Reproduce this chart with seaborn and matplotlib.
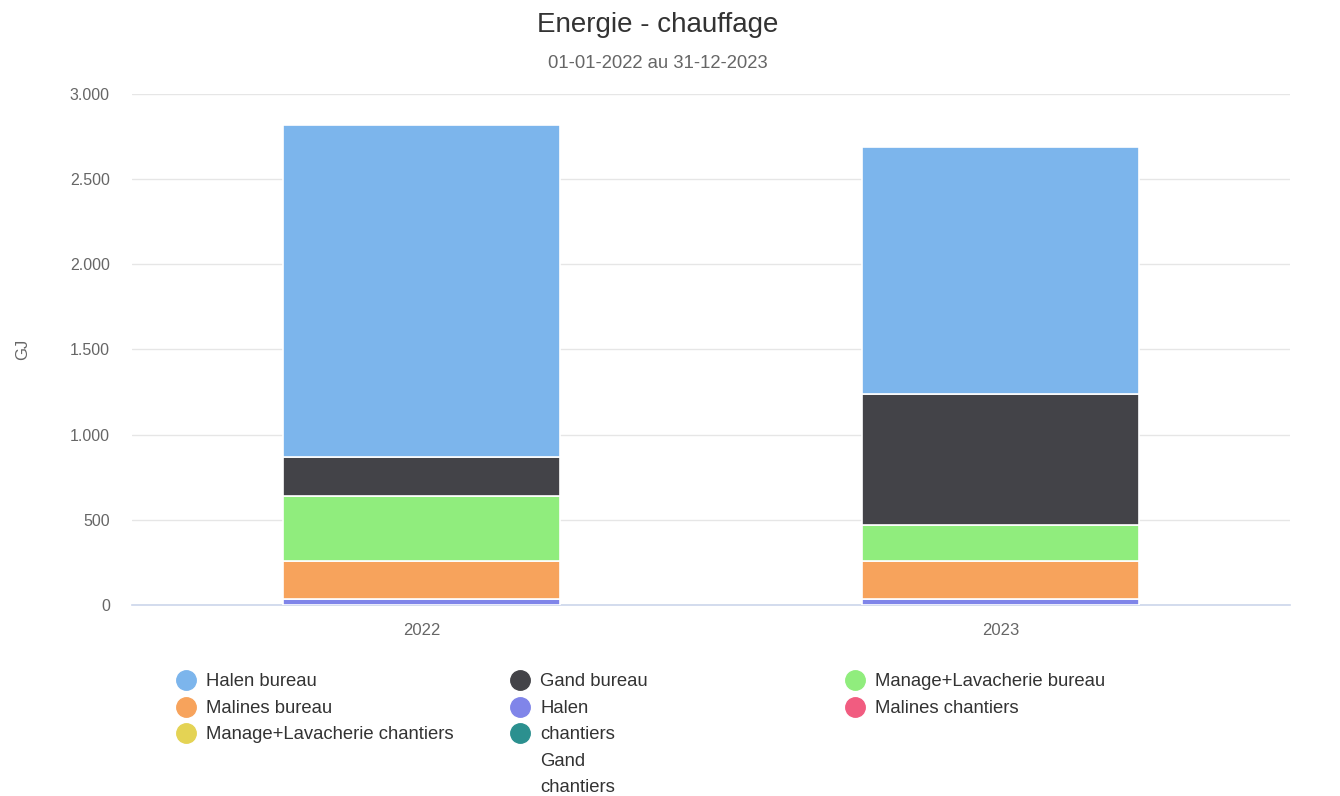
import matplotlib
matplotlib.use('Agg')
import matplotlib.pyplot as plt
from matplotlib.lines import Line2D
from matplotlib.ticker import FuncFormatter
import seaborn as sns
import pandas as pd
import numpy as np

# Data (GJ), bottom to top of stack
years = ['2022', '2023']
halen = [35, 33]
malines_bureau = [223, 223]
manage_bureau = [382, 214]
gand_bureau = [229, 769]
halen_bureau = [1949, 1450]
malines_chantiers = [0, 0]
manage_chantiers = [0, 0]
chantiers = [0, 0]

stack = [
    ('Halen', halen, '#8085e9'),
    ('Malines bureau', malines_bureau, '#f7a35c'),
    ('Manage+Lavacherie bureau', manage_bureau, '#90ed7d'),
    ('Gand bureau', gand_bureau, '#434348'),
    ('Halen bureau', halen_bureau, '#7cb5ec'),
]

# legend order as shown (row by row, 3 columns)
legend_items = [
    ('Halen bureau', '#7cb5ec'),
    ('Gand bureau', '#434348'),
    ('Manage+Lavacherie bureau', '#90ed7d'),
    ('Malines bureau', '#f7a35c'),
    ('Halen', '#8085e9'),
    ('Malines chantiers', '#f15c80'),
    ('Manage+Lavacherie chantiers', '#e4d354'),
    ('chantiers\nGand\nchantiers', '#2b908f'),
]

sns.set_style("white")
plt.rcParams['font.family'] = ['Liberation Sans', 'DejaVu Sans']

W, H = 1340, 796
fig = plt.figure(figsize=(W / 100, H / 100), dpi=100)
ax = fig.add_axes([132 / W, (H - 605) / H, 1158 / W, 511 / H])

df = pd.DataFrame({'year': years})
bottom = np.zeros(len(years))
for name, vals, color in stack:
    df[name] = vals
    sns.barplot(data=df, x='year', y=name, color=color, bottom=bottom,
                width=0.48, edgecolor='white', linewidth=1.2, saturation=1,
                ax=ax, zorder=3)
    bottom = bottom + np.array(vals)

ax.set_xlim(-0.5, 1.5)
ax.set_ylim(0, 3000)
ax.set_yticks(np.arange(0, 3001, 500))
ax.yaxis.set_major_formatter(FuncFormatter(lambda v, p: f'{int(v):,}'.replace(',', '.')))
ax.grid(axis='y', color='#e6e6e6', linewidth=1, zorder=0)
for s in ['top', 'right', 'left']:
    ax.spines[s].set_visible(False)
ax.spines['bottom'].set_color('#ccd6eb')
ax.spines['bottom'].set_linewidth(1.2)
ax.tick_params(axis='y', length=0, labelsize=11.5, labelcolor='#666666', pad=16)
ax.tick_params(axis='x', length=0, labelsize=12, labelcolor='#666666', pad=13)
ax.set_xlabel('')
ax.set_ylabel('GJ', fontsize=12, color='#666666')
ax.yaxis.set_label_coords(-(132 - 30) / 1158, 0.5)

fig.text(658 / W, 1 - 25 / H, 'Energie - chauffage', ha='center', va='center',
         fontsize=20, color='#333333')
fig.text(658 / W, 1 - 64 / H, '01-01-2022 au 31-12-2023', ha='center', va='center',
         fontsize=13.3, color='#666666')

# legend, row-major, 3 columns
col_x = [186, 520, 855]
row_y = [680, 707, 733]
for i, (label, color) in enumerate(legend_items):
    c, r = i % 3, i // 3
    fig.add_artist(Line2D([col_x[c] / W], [1 - row_y[r] / H], marker='o',
                          markersize=14, color=color, linestyle='none',
                          transform=fig.transFigure))
    fig.text((col_x[c] + 20) / W, 1 - (row_y[r] - 7) / H, label, ha='left', va='top',
             fontsize=13.3, color='#333333', linespacing=1.75)

fig.savefig('out.png', dpi=100)
